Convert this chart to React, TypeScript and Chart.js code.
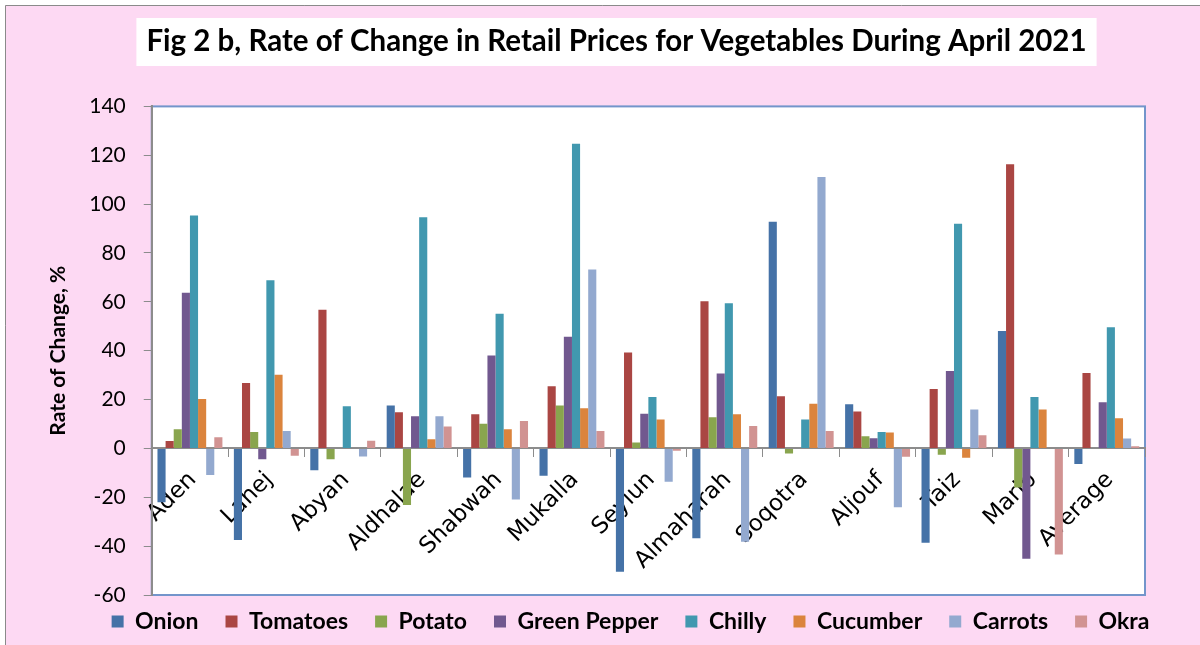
import React, { useEffect, useRef } from "react";
import { Chart, registerables } from "chart.js";

Chart.register(...registerables);

const categories = ["Aden", "Lahej", "Abyan", "Aldhalae", "Shabwah", "Mukalla", "Seyiun", "Almaharah", "Soqotra", "Aljouf", "Taiz", "Marib", "Average"];

const onion = [-22, -37.5, -8.9, 17.6, -11.9, -11.2, -50.5, -36.8, 92.8, 18.1, -38.6, 48.1, -6.4];
const tomatoes = [3.0, 26.8, 56.8, 14.8, 14.0, 25.4, 39.3, 60.2, 21.4, 15.1, 24.3, 116.3, 30.9];
const potato = [7.8, 6.7, -4.4, -23.2, 10.1, 17.6, 2.4, 12.8, -2.1, 5.0, -2.6, -16.0, 0];
const greenPepper = [63.7, -4.4, 0, 13.2, 38.0, 45.7, 14.2, 30.7, 0, 4.2, 31.7, -45.2, 18.9];
const chilly = [95.3, 68.8, 17.3, 94.6, 55.1, 124.7, 21.0, 59.4, 11.8, 6.7, 92.0, 21.0, 49.6];
const cucumber = [20.2, 30.2, 0, 3.8, 7.8, 16.4, 11.8, 14.0, 18.3, 6.5, -3.8, 15.9, 12.3];
const carrots = [-10.9, 7.1, -3.3, 13.2, -20.9, 73.2, -13.6, -38.2, 111.1, -24.1, 15.9, 0, 4.1];
const okra = [4.6, -3.0, 3.1, 9.0, 11.2, 7.1, -1.0, 9.2, 7.1, -3.4, 5.4, -43.4, 0.9];

const seriesNames = ["Onion", "Tomatoes", "Potato", "Green Pepper", "Chilly", "Cucumber", "Carrots", "Okra"];
const seriesValues = [onion, tomatoes, potato, greenPepper, chilly, cucumber, carrots, okra];
const seriesColors = ["#4572A7", "#AA4643", "#89A54E", "#71588F", "#4198AF", "#DB843D", "#93A9CF", "#D19392"];

const titleText = "Fig 2 b, Rate of Change in Retail Prices for Vegetables During April 2021";
const yTitle = "Rate of Change, %";
const yMin = -60;
const yMax = 140;
const yStep = 20;

const FONT = "Lato, 'Noto Sans', sans-serif";
const TITLE_SIZE = 29.5;

const bgPlugin = {
  id: "bgPlugin",
  afterLayout(chart: any) {
    const lg = chart.legend;
    if (lg) {
      lg.top -= 12;
      lg.bottom -= 12;
      lg.left += 35;
      lg.right += 35;
    }
    const tb = chart.titleBlock;
    if (tb) {
      tb.left += 21;
      tb.right += 21;
    }
  },
  beforeDraw(chart: any) {
    const { ctx, width, height, chartArea } = chart;
    ctx.save();
    ctx.fillStyle = "#ffffff";
    ctx.fillRect(0, 0, width, height);
    ctx.fillStyle = "#FDD9F3";
    ctx.fillRect(5, 5, width - 5, height - 5);
    ctx.strokeStyle = "#8a8a8a";
    ctx.lineWidth = 1;
    ctx.beginPath();
    ctx.moveTo(5.5, height);
    ctx.lineTo(5.5, 5.5);
    ctx.lineTo(width, 5.5);
    ctx.stroke();
    const tb = chart.titleBlock;
    if (tb) {
      ctx.font = `bold ${TITLE_SIZE}px ${FONT}`;
      const tw = ctx.measureText(titleText).width;
      const cx = (tb.left + tb.right) / 2;
      ctx.fillStyle = "#ffffff";
      ctx.fillRect(cx - tw / 2 - 10, 18, tw + 20, 48);
    }
    ctx.fillStyle = "#ffffff";
    ctx.fillRect(chartArea.left, chartArea.top, chartArea.right - chartArea.left, chartArea.bottom - chartArea.top);
    ctx.strokeStyle = "#7395CB";
    ctx.lineWidth = 2;
    ctx.strokeRect(chartArea.left, chartArea.top, chartArea.right - chartArea.left, chartArea.bottom - chartArea.top);
    ctx.restore();
  },
};

export default function App() {
  const ref = useRef<HTMLCanvasElement>(null);
  useEffect(() => {
    document.body.style.margin = "0";
    const chart = new Chart(ref.current as HTMLCanvasElement, {
      type: "bar",
      data: {
        labels: categories,
        datasets: seriesNames.map((n, i) => ({
          label: n,
          data: seriesValues[i],
          backgroundColor: seriesColors[i],
          borderWidth: 0,
          categoryPercentage: 0.85,
          barPercentage: 1.0,
        })),
      },
      options: {
        animation: false,
        responsive: true,
        maintainAspectRatio: false,
        layout: { padding: { left: 46, right: 55, top: 0, bottom: 0 } },
        plugins: {
          title: {
            display: true,
            text: titleText,
            color: "#000",
            font: { family: FONT, size: TITLE_SIZE, weight: "bold" },
            padding: { top: 24, bottom: 47 },
          },
          legend: {
            position: "bottom",
            maxHeight: 50,
            labels: {
              color: "#000",
              font: { family: FONT, size: 23, weight: "bold" },
              boxWidth: 12,
              boxHeight: 12,
              padding: 27,
            },
          },
          tooltip: { enabled: false },
        },
        scales: {
          x: {
            position: { y: 0 },
            grid: { drawOnChartArea: false, drawTicks: true, tickLength: 8, color: "#8c8c8c", offset: true },
            border: { color: "#8c8c8c", width: 2 },
            ticks: {
              color: "#000",
              font: { family: "'DejaVu Sans', sans-serif", size: 23 },
              maxRotation: 45,
              minRotation: 45,
              autoSkip: false,
              padding: 10,
              labelOffset: 3,
            },
          },
          y: {
            min: yMin,
            max: yMax,
            ticks: {
              stepSize: yStep,
              color: "#000",
              font: { family: FONT, size: 21 },
              padding: 18,
            },
            grid: { drawOnChartArea: false, drawTicks: true, tickLength: 8, color: "#8c8c8c" },
            border: { color: "#8c8c8c", width: 2 },
            title: {
              display: true,
              text: yTitle,
              color: "#000",
              font: { family: FONT, size: 21, weight: "bold" },
              padding: { top: 0, bottom: 0 },
            },
          },
        },
      },
      plugins: [bgPlugin],
    });
    return () => chart.destroy();
  }, []);
  return (
    <div style={{ width: 1200, height: 645, position: "relative" }}>
      <canvas ref={ref} />
    </div>
  );
}
